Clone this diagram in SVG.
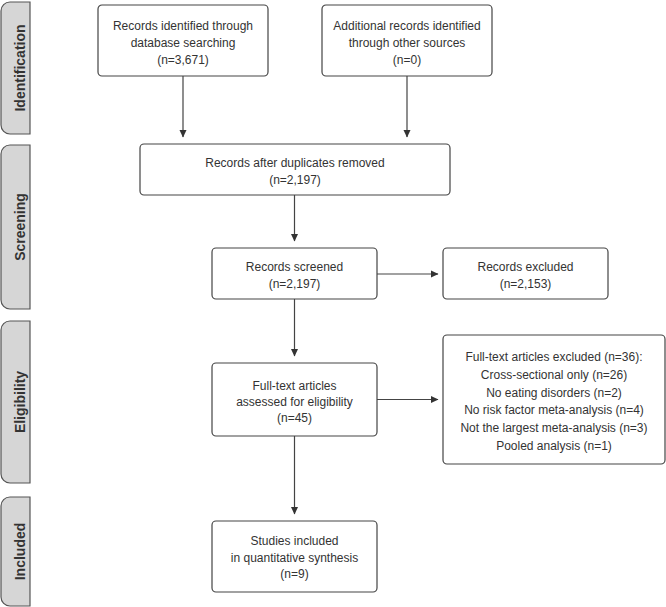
<svg xmlns="http://www.w3.org/2000/svg" width="666" height="607" viewBox="0 0 666 607">
<style>
.tab{fill:#d6d6d6;stroke:#555;stroke-width:1.2}
.tt{font-family:"Liberation Sans",Arial,sans-serif;font-size:14px;font-weight:bold;fill:#333;text-anchor:middle}
.box{fill:#fff;stroke:#444;stroke-width:1.2}
.t{font-family:"Liberation Sans",Arial,sans-serif;font-size:12px;fill:#333;text-anchor:middle}
.c{stroke:#444;stroke-width:1.2;fill:none}
</style>
<defs>
<marker id="ah" markerWidth="8" markerHeight="8" refX="7" refY="4" orient="auto" markerUnits="userSpaceOnUse">
<path d="M0,0.5 L7.5,4 L0,7.5 Z" fill="#333"/>
</marker>
</defs>
<g id="tab-identification">
<path class="tab" d="M30,2 H10 A9,9 0 0 0 1,11 V125 A9,9 0 0 0 10,134 H30 Z"/>
<text class="tt" transform="translate(25,68) rotate(-90)">Identification</text>
</g>
<g id="tab-screening">
<path class="tab" d="M30,145 H10 A9,9 0 0 0 1,154 V300 A9,9 0 0 0 10,309 H30 Z"/>
<text class="tt" transform="translate(25,227) rotate(-90)">Screening</text>
</g>
<g id="tab-eligibility">
<path class="tab" d="M30,321 H10 A9,9 0 0 0 1,330 V474 A9,9 0 0 0 10,483 H30 Z"/>
<text class="tt" transform="translate(25,402) rotate(-90)">Eligibility</text>
</g>
<g id="tab-included">
<path class="tab" d="M30,497 H10 A9,9 0 0 0 1,506 V597 A9,9 0 0 0 10,606 H30 Z"/>
<text class="tt" transform="translate(25,551.5) rotate(-90)">Included</text>
</g>
<g id="connectors">
<line class="c" x1="183" y1="76" x2="183" y2="137" marker-end="url(#ah)"/>
<line class="c" x1="407" y1="76" x2="407" y2="137" marker-end="url(#ah)"/>
<line class="c" x1="294.5" y1="195" x2="294.5" y2="241" marker-end="url(#ah)"/>
<line class="c" x1="377" y1="274" x2="438" y2="274" marker-end="url(#ah)"/>
<line class="c" x1="294.5" y1="299" x2="294.5" y2="356" marker-end="url(#ah)"/>
<line class="c" x1="377" y1="399.5" x2="438" y2="399.5" marker-end="url(#ah)"/>
<line class="c" x1="294.5" y1="436" x2="294.5" y2="514" marker-end="url(#ah)"/>
</g>
<g id="n-database">
<rect class="box" x="98" y="5" width="170" height="71" rx="4"/>
<text class="t" x="183" y="30">Records identified through</text>
<text class="t" x="183" y="47">database searching</text>
<text class="t" x="183" y="64">(n=3,671)</text>
</g>
<g id="n-other">
<rect class="box" x="322" y="5" width="170" height="71" rx="4"/>
<text class="t" x="407" y="30">Additional records identified</text>
<text class="t" x="407" y="47">through other sources</text>
<text class="t" x="407" y="64">(n=0)</text>
</g>
<g id="n-duplicates">
<rect class="box" x="140" y="144" width="310" height="51" rx="4"/>
<text class="t" x="295" y="167">Records after duplicates removed</text>
<text class="t" x="295" y="184">(n=2,197)</text>
</g>
<g id="n-screened">
<rect class="box" x="212" y="248" width="165" height="51" rx="4"/>
<text class="t" x="294.5" y="271">Records screened</text>
<text class="t" x="294.5" y="288">(n=2,197)</text>
</g>
<g id="n-excluded">
<rect class="box" x="443" y="248" width="165" height="51" rx="4"/>
<text class="t" x="525.5" y="271">Records excluded</text>
<text class="t" x="525.5" y="288">(n=2,153)</text>
</g>
<g id="n-fulltext">
<rect class="box" x="212" y="363" width="165" height="73" rx="4"/>
<text class="t" x="294.5" y="390">Full-text articles</text>
<text class="t" x="294.5" y="406">assessed for eligibility</text>
<text class="t" x="294.5" y="422">(n=45)</text>
</g>
<g id="n-ftexcluded">
<rect class="box" x="443" y="335" width="222" height="129" rx="4"/>
<text class="t" x="554" y="361">Full-text articles excluded (n=36):</text>
<text class="t" x="554" y="379">Cross-sectional only (n=26)</text>
<text class="t" x="554" y="397">No eating disorders (n=2)</text>
<text class="t" x="554" y="414">No risk factor meta-analysis (n=4)</text>
<text class="t" x="554" y="432">Not the largest meta-analysis (n=3)</text>
<text class="t" x="554" y="450">Pooled analysis (n=1)</text>
</g>
<g id="n-included">
<rect class="box" x="212" y="521" width="165" height="71" rx="4"/>
<text class="t" x="294.5" y="545">Studies included</text>
<text class="t" x="294.5" y="562">in quantitative synthesis</text>
<text class="t" x="294.5" y="578">(n=9)</text>
</g>
</svg>
